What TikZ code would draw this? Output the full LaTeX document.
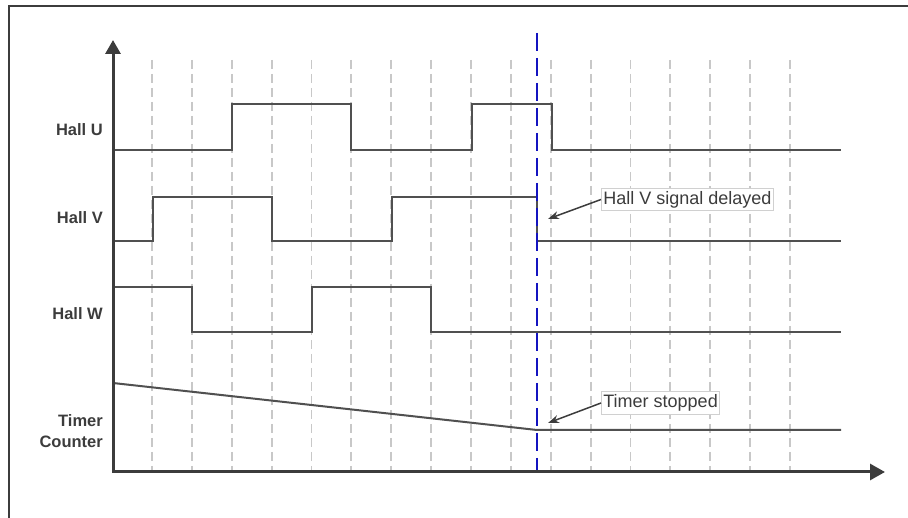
\documentclass[tikz,border=0pt]{standalone}
\usepackage{fontspec}
\setmainfont{Liberation Sans}
\usetikzlibrary{arrows.meta}
\definecolor{axis}{HTML}{3C3C3C}
\definecolor{sig}{HTML}{505050}
\definecolor{gridc}{HTML}{C8C8C8}
\definecolor{markc}{HTML}{1414C0}
\tikzset{
  sigline/.style={draw=sig,line width=2pt,line join=miter},
  gridline/.style={draw=gridc,line width=1.8pt,dash pattern=on 9pt off 5pt},
  axisline/.style={draw=axis,line width=3pt,line join=miter,
    {Triangle[length=14pt,width=15pt]}-{Triangle[length=15pt,width=16pt]}},
  markline/.style={draw=markc,line width=2.6pt,dash pattern=on 18pt off 7pt},
  framel/.style={draw=axis,line width=2pt},
  lbl/.style={font=\fontsize{16.5}{21}\selectfont\bfseries,align=right,text=axis,inner sep=0pt},
  callout/.style={draw=gridc!85,line width=0.8pt,fill=white,
    font=\fontsize{18}{20}\selectfont,text=axis,inner xsep=2pt,inner ysep=3pt,anchor=west},
  callarrow/.style={draw=axis,line width=1.5pt,-{Stealth[length=11pt,width=8pt]}}
}
\begin{document}
\begin{tikzpicture}[x=1pt,y=-1pt]
\useasboundingbox (0,0) rectangle (908,518);
% frame
\draw[framel] (8.5,518) -- (8.5,6.5) -- (908,6.5);
% grid
\foreach \i in {0,...,16}
  \draw[gridline] ({152+39.875*\i},60) -- ({152+39.875*\i},472);
% signals
\draw[sigline] (113,150) -- (232,150) -- (232,104) -- (351,104) -- (351,150) -- (472,150)
  -- (472,104) -- (552,104) -- (552,150) -- (841,150);
\draw[sigline] (113,241) -- (153,241) -- (153,197) -- (272,197) -- (272,241) -- (392,241)
  -- (392,197) -- (537,197) -- (537,241) -- (841,241);
\draw[sigline] (113,287) -- (192,287) -- (192,332) -- (312,332) -- (312,287) -- (431,287)
  -- (431,332) -- (841,332);
\draw[sigline] (113,383) -- (537,430) -- (841,430);
% marker
\draw[markline] (537,33) -- (537,472);
% axes
\draw[axisline] (113,40) -- (113,472) -- (885,472);
% labels
\node[lbl,anchor=base east] (hu) at (103,135.5) {Hall U};
\node[lbl,anchor=base east] (hv) at (103,224) {Hall V};
\node[lbl,anchor=base east] (hw) at (103,319.5) {Hall W};
\node[lbl,anchor=east] (tc) at (103,431) {Timer\\Counter};
% callouts
\node[callout] (cb1) at (601,199.5) {Hall V signal delayed};
\node[callout] (cb2) at (601,403) {Timer stopped};
\coordinate (t1) at (548,219);
\coordinate (t2) at (548,423);
\draw[callarrow] (cb1.west) -- (t1);
\draw[callarrow] (cb2.west) -- (t2);
\end{tikzpicture}
\end{document}
